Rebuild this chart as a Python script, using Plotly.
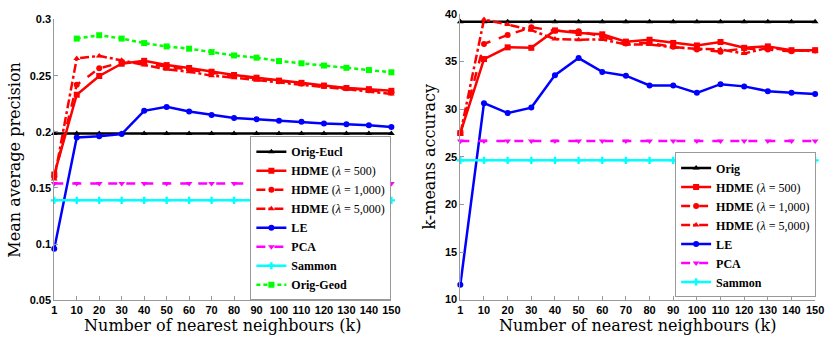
import plotly.graph_objects as go

k_labels = ["1", "10", "20", "30", "40", "50", "60", "70", "80", "90", "100", "110", "120", "130", "140", "150"]

# Left: Mean average precision
map_orig_eucl = [0.1985] * 16
map_hdme_500 = [0.162, 0.233, 0.2497, 0.2606, 0.2632, 0.2594, 0.2568, 0.2535, 0.2506, 0.2482, 0.2456, 0.2436, 0.2412, 0.239, 0.238, 0.2365]
map_hdme_1000 = [0.160, 0.2418, 0.2565, 0.2618, 0.261, 0.258, 0.2556, 0.2526, 0.250, 0.2477, 0.245, 0.243, 0.2407, 0.2389, 0.237, 0.235]
map_hdme_5000 = [0.158, 0.2653, 0.2676, 0.2638, 0.2594, 0.2556, 0.2535, 0.250, 0.2482, 0.246, 0.2438, 0.2418, 0.2398, 0.238, 0.236, 0.2337]
map_le = [0.096, 0.195, 0.196, 0.198, 0.2187, 0.2222, 0.218, 0.215, 0.2123, 0.2112, 0.2098, 0.209, 0.2073, 0.2067, 0.2058, 0.2042]
map_pca = [0.154] * 16
map_sammon = [0.139] * 16
map_orig_geod = [None, 0.283, 0.286, 0.283, 0.279, 0.276, 0.274, 0.271, 0.268, 0.266, 0.263, 0.261, 0.259, 0.257, 0.255, 0.253]

# Right: k-means accuracy
km_orig = [39.2] * 16
km_hdme_500 = [27.5, 35.27, 36.5, 36.45, 38.28, 38.0, 37.87, 37.1, 37.3, 36.96, 36.7, 37.06, 36.45, 36.6, 36.2, 36.2]
km_hdme_1000 = [27.5, 36.86, 37.8, 38.6, 38.24, 38.2, 37.63, 36.9, 36.96, 36.55, 36.28, 36.05, 36.38, 36.28, 36.1, 36.18]
km_hdme_5000 = [27.4, 39.42, 38.9, 38.3, 37.37, 37.3, 37.33, 36.8, 36.8, 36.5, 36.35, 36.28, 35.85, 36.45, 36.18, 36.1]
km_le = [11.56, 30.64, 29.6, 30.17, 33.58, 35.37, 33.92, 33.52, 32.5, 32.5, 31.72, 32.63, 32.4, 31.9, 31.72, 31.59]
km_pca = [26.66] * 16
km_sammon = [24.63] * 16

left_ticks = [0.05, 0.1, 0.15, 0.2, 0.25, 0.3]
left_ticktext = ["0.05", "0.1", "0.15", "0.2", "0.25", "0.3"]
right_ticks = [10, 15, 20, 25, 30, 35, 40]

RED = "#ff0000"
styles = [
    # name_left, name_right, color, dash, symbol
    ("<b>Orig-Eucl</b>", "<b>Orig</b>", "#000000", "solid", "triangle-up"),
    ("<b>HDME</b> (<i>λ</i> = 500)", None, RED, "solid", "square"),
    ("<b>HDME</b> (<i>λ</i> = 1,000)", None, RED, "dash", "circle"),
    ("<b>HDME</b> (<i>λ</i> = 5,000)", None, RED, "dashdot", "triangle-up"),
    ("<b>LE</b>", None, "#0000ff", "solid", "circle"),
    ("<b>PCA</b>", None, "#ff00ff", "dash", "triangle-down"),
    ("<b>Sammon</b>", None, "#00ffff", "solid", "cross"),
    ("<b>Orig-Geod</b>", None, "#00ff00", "4px,3px", "square"),
]

left_data = [map_orig_eucl, map_hdme_500, map_hdme_1000, map_hdme_5000, map_le, map_pca, map_sammon, map_orig_geod]
right_data = [km_orig, km_hdme_500, km_hdme_1000, km_hdme_5000, km_le, km_pca, km_sammon]

fig = go.Figure()

for i, ys in enumerate(left_data):
    nm, _, col, dash, sym = styles[i]
    fig.add_trace(go.Scatter(
        x=k_labels, y=ys, name=nm, mode="lines+markers",
        line=dict(color=col, width=2.5, dash=dash),
        marker=dict(symbol=sym, size=6, color=col, line=dict(width=0, color=col)),
        xaxis="x", yaxis="y", legend="legend", cliponaxis=False, connectgaps=False,
    ))

for i, ys in enumerate(right_data):
    nm, nm_r, col, dash, sym = styles[i]
    fig.add_trace(go.Scatter(
        x=k_labels, y=ys, name=nm_r if nm_r else nm, mode="lines+markers",
        line=dict(color=col, width=2.5, dash=dash),
        marker=dict(symbol=sym, size=6, color=col, line=dict(width=0, color=col)),
        xaxis="x2", yaxis="y2", legend="legend2", cliponaxis=False,
    ))

tickfont = dict(family="Liberation Sans", size=11, color="#000000", weight="bold")
titlefont = dict(family="DejaVu Serif", size=16, color="#000000")

common_x = dict(
    type="category", range=[0, 15], showgrid=False, zeroline=False,
    showline=True, linecolor="#999999", linewidth=1,
    ticks="inside", ticklen=4, tickcolor="#999999",
    tickfont=tickfont, title=dict(text="Number of nearest neighbours (k)", font=titlefont, standoff=4),
)
common_y = dict(
    showgrid=False, zeroline=False, showline=True, linecolor="#999999", linewidth=1,
    ticks="inside", ticklen=4, tickcolor="#999999", tickfont=tickfont,
)

legend_common = dict(
    bgcolor="#ffffff", bordercolor="#999999", borderwidth=1,
    font=dict(family="Liberation Serif", size=12, color="#000000"),
    itemwidth=30, tracegroupgap=0, traceorder="normal",
)

fig.update_layout(
    width=835, height=342,
    margin=dict(l=0, r=0, t=0, b=0),
    paper_bgcolor="#ffffff", plot_bgcolor="#ffffff",
    showlegend=True,
    xaxis=dict(domain=[0.0623, 0.4719], anchor="y", **common_x),
    yaxis=dict(domain=[0.1082, 0.9591], anchor="x", range=[0.05, 0.3],
               tickvals=left_ticks, ticktext=left_ticktext,
               title=dict(text="Mean average precision", font=titlefont, standoff=5), **common_y),
    xaxis2=dict(domain=[0.5557, 0.9868], anchor="y2", **common_x),
    yaxis2=dict(domain=[0.1102, 0.9757], anchor="x2", range=[10, 40],
                tickvals=right_ticks,
                title=dict(text="k-means accuracy", font=titlefont, standoff=5), **common_y),
    legend=dict(x=0.4719, y=1 - 135 / 342, xanchor="right", yanchor="top", **legend_common),
    legend2=dict(x=0.988, y=1 - 302 / 342, xanchor="right", yanchor="bottom", **legend_common),
)

fig.write_html("out.html")
